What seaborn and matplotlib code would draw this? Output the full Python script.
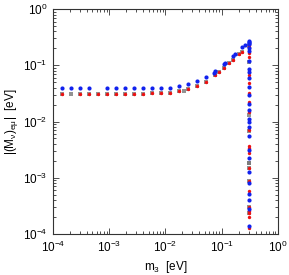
import numpy as np
import pandas as pd
import matplotlib
matplotlib.use("Agg")
import matplotlib.pyplot as plt
import matplotlib.ticker as mticker
import seaborn as sns

# Points (m3 in eV, |(M_nu)_emu| in eV)
blue_m3 = [1.43e-4, 2.09e-4, 3.02e-4, 4.42e-4, 9.23e-4, 1.32e-3, 1.91e-3, 2.75e-3,
           4.03e-3, 5.82e-3, 8.42e-3, 1.22e-2, 1.76e-2, 2.54e-2, 3.59e-2, 5.25e-2,
           7.28e-2, 7.68e-2, 0.111, 0.116, 0.160, 0.174, 0.229, 0.256,
           0.301, 0.301, 0.301, 0.301, 0.301, 0.301, 0.301, 0.301, 0.301, 0.301,
           0.301, 0.301, 0.301, 0.301, 0.301, 0.301, 0.301, 0.301, 0.301, 0.301,
           0.301, 0.301, 0.301, 0.301, 0.301, 0.301]
blue_m = [0.0402, 0.0402, 0.0402, 0.0402, 0.0402, 0.0402, 0.0402, 0.0402,
          0.0402, 0.0402, 0.0402, 0.0402, 0.0433, 0.0470, 0.0518, 0.0618,
          0.0737, 0.0780, 0.105, 0.108, 0.146, 0.157, 0.208, 0.226,
          0.270, 0.262, 0.250, 0.240, 0.200, 0.180, 0.120, 0.0847, 0.0768, 0.0586,
          0.0416, 0.0296, 0.0202, 0.0160, 0.0111, 0.00968, 0.00798, 0.00552, 0.00311,
          0.00222, 0.00128, 0.000796, 0.000508, 0.000402, 0.000275, 0.000139]

red_m3 = [1.43e-4, 3.02e-4, 4.42e-4, 6.38e-4, 9.23e-4, 1.32e-3, 1.91e-3, 2.75e-3,
          4.03e-3, 5.82e-3, 8.42e-3, 1.22e-2, 1.76e-2, 2.54e-2, 3.59e-2, 5.25e-2,
          7.68e-2, 8.93e-2, 0.111, 0.136, 0.160, 0.203, 0.232,
          0.301, 0.301, 0.301, 0.301, 0.301, 0.301, 0.301, 0.301, 0.301, 0.301,
          0.301, 0.301, 0.301, 0.301, 0.301, 0.301, 0.301, 0.301, 0.301, 0.301,
          0.301]
red_m = [0.0315, 0.0315, 0.0315, 0.0315, 0.0315, 0.0315, 0.0315, 0.0315,
         0.0315, 0.0321, 0.0321, 0.0321, 0.0353, 0.0378, 0.0428, 0.0510,
         0.0663, 0.0749, 0.0883, 0.108, 0.122, 0.157, 0.174,
         0.229, 0.214, 0.165, 0.142, 0.0671, 0.0478, 0.0317, 0.0225, 0.0149,
         0.00706, 0.00371, 0.00334, 0.00272, 0.00147, 0.000887, 0.000581,
         0.000306, 0.000256, 0.000233, 0.000198, 0.000129]

grey_m3 = [1.43e-4, 2.09e-4, 3.02e-4, 4.42e-4, 6.38e-4, 9.23e-4, 1.32e-3, 1.91e-3,
           2.75e-3, 4.03e-3, 5.82e-3, 8.42e-3, 1.22e-2, 1.76e-2, 2.11e-2, 2.54e-2,
           3.59e-2, 5.25e-2, 7.68e-2, 8.93e-2, 0.111, 0.136, 0.160, 0.203, 0.232,
           0.301, 0.301, 0.301, 0.301, 0.301, 0.301, 0.301, 0.301, 0.301, 0.301]
grey_m = [0.0315, 0.0315, 0.0315, 0.0315, 0.0315, 0.0315, 0.0315, 0.0315,
          0.0315, 0.0315, 0.0321, 0.0321, 0.0321, 0.0353, 0.0353, 0.0378,
          0.0428, 0.0510, 0.0663, 0.0749, 0.0883, 0.108, 0.122, 0.157, 0.174,
          0.221, 0.114, 0.0130, 0.00678, 0.00181, 0.00181, 0.00147, 0.000887,
          0.000306, 0.000233]

sns.set_style("ticks")
plt.rcParams['font.family'] = ['Liberation Sans', 'DejaVu Sans']
plt.rcParams['mathtext.fontset'] = 'custom'
plt.rcParams['mathtext.rm'] = 'Liberation Sans'
plt.rcParams['mathtext.it'] = 'Liberation Sans'
plt.rcParams['text.color'] = 'black'
plt.rcParams['axes.labelcolor'] = 'black'
plt.rcParams['xtick.color'] = 'black'
plt.rcParams['ytick.color'] = 'black'

fig = plt.figure(figsize=(2.89, 2.75), dpi=100)
ax = fig.add_axes([0.183, 0.149, 0.779, 0.818])

grey = pd.DataFrame({'m3': grey_m3, 'm': grey_m})
red = pd.DataFrame({'m3': red_m3, 'm': red_m})
blue = pd.DataFrame({'m3': blue_m3, 'm': blue_m})

sns.scatterplot(data=grey, x='m3', y='m', ax=ax, color='#777777', marker='s',
                s=9, linewidth=0, alpha=0.8)
sns.scatterplot(data=red, x='m3', y='m', ax=ax, color='#ee1111', marker='o',
                s=6, linewidth=0)
sns.scatterplot(data=blue, x='m3', y='m', ax=ax, color='#1122ee', marker='o',
                s=9, linewidth=0)

ax.set_xscale('log')
ax.set_yscale('log')
ax.set_xlim(1e-4, 1)
ax.set_ylim(1e-4, 1)

fmt = mticker.FuncFormatter(lambda v, p: r'$10^{%d}$' % round(np.log10(v)))
ax.xaxis.set_major_formatter(fmt)
ax.yaxis.set_major_formatter(fmt)
ax.xaxis.set_major_locator(mticker.LogLocator(base=10, numticks=10))
ax.yaxis.set_major_locator(mticker.LogLocator(base=10, numticks=10))
ax.xaxis.set_minor_locator(mticker.LogLocator(base=10, subs=np.arange(2, 10), numticks=20))
ax.yaxis.set_minor_locator(mticker.LogLocator(base=10, subs=np.arange(2, 10), numticks=20))
ax.xaxis.set_minor_formatter(mticker.NullFormatter())
ax.yaxis.set_minor_formatter(mticker.NullFormatter())

ax.tick_params(which='both', direction='in', top=True, right=True, labelsize=8.5,
               color='#333333', labelcolor='black', width=0.6)
ax.tick_params(which='major', length=4, pad=4)
ax.tick_params(which='minor', length=2)
for sp in ax.spines.values():
    sp.set_linewidth(0.8)
    sp.set_color('#333333')

ax.set_xlabel(r'm$_3$  [eV]', fontsize=8.5, labelpad=3, color='black')
ax.set_ylabel(r'|(M$_\nu$)$_{e\mu}$|  [eV]', fontsize=8.5, labelpad=2, color='black')

fig.savefig('out.png', dpi=100)
